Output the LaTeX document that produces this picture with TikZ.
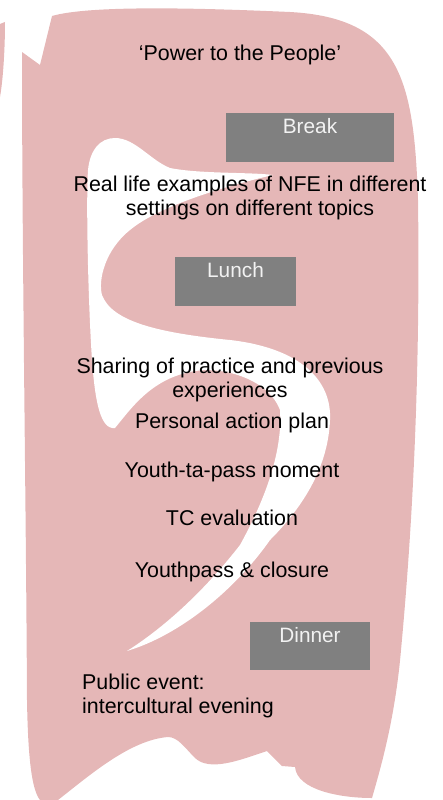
\documentclass[tikz,border=0pt]{standalone}
\usepackage{fontspec}
\setmainfont{Liberation Sans}
\definecolor{pinkfill}{HTML}{E5B7B7}
\definecolor{boxgray}{HTML}{808080}
\definecolor{boxtxt}{HTML}{F2F2F2}
\begin{document}
\begin{tikzpicture}[x=1pt,y=-1pt,
  graybox/.style={fill=boxgray, draw=none, inner sep=0pt, anchor=north west},
  boxlabel/.style={text=boxtxt, anchor=base, inner sep=0pt, font=\fontsize{20.8}{23.5}\selectfont},
  item/.style={text=black, anchor=base, align=center, inner sep=0pt, font=\fontsize{21.4}{23.5}\selectfont}]
\useasboundingbox (0,0) rectangle (443,800);
% pink sliver on the left edge
\fill[pinkfill] (0,24) -- (5,22) .. controls (5,50) and (3,80) .. (0,97) -- cycle;
% main pink shape
\fill[pinkfill] (52,16) .. controls (90,5) and (200,8) .. (290,12)
  .. controls (400,18) and (414,80) .. (418,200)
  .. controls (420,350) and (415,500) .. (401,650)
  .. controls (395,720) and (380,770) .. (372,798)
  .. controls (340,798) and (297,790) .. (295,767)
  -- (282,766) -- (267,751)
  .. controls (240,760) and (210,772) .. (195,758)
  .. controls (185,748) and (178,737) .. (168,737)
  .. controls (130,740) and (90,775) .. (58,800)
  -- (40,800) .. controls (32,790) and (28,760) .. (27,700)
  .. controls (26,500) and (22,250) .. (22,52)
  -- (40,65) -- cycle;
% white S-shaped cut
\fill[white] (115,138) .. controls (135,138) and (150,160) .. (170,168)
  .. controls (200,174) and (250,172) .. (273,175)
  .. controls (230,185) and (160,205) .. (130,230)
  .. controls (105,250) and (98,280) .. (102,295)
  .. controls (112,322) and (160,333) .. (230,340)
  .. controls (300,348) and (332,380) .. (330,420)
  .. controls (328,470) and (300,510) .. (270,540)
  .. controls (235,590) and (180,635) .. (127,651)
  .. controls (165,627) and (205,590) .. (240,545)
  .. controls (262,505) and (283,455) .. (280,410)
  .. controls (268,378) and (220,365) .. (190,372)
  .. controls (150,380) and (130,410) .. (115,428)
  .. controls (100,430) and (95,400) .. (92,360)
  .. controls (88,300) and (86,200) .. (88,170)
  .. controls (90,150) and (100,138) .. (115,138) -- cycle;
% gray boxes
\node[graybox, minimum width=168pt, minimum height=49pt] (breakbox) at (226,113) {};
\node[boxlabel] (breaktxt) at (310,133) {Break};
\node[graybox, minimum width=121pt, minimum height=49pt] (lunchbox) at (175,257) {};
\node[boxlabel] (lunchtxt) at (235.5,277) {Lunch};
\node[graybox, minimum width=120pt, minimum height=48pt] (dinnerbox) at (250,622) {};
\node[boxlabel] (dinnertxt) at (310,642) {Dinner};
% texts
\node[item] (power) at (240,61) {‘Power to the People’};
\node[item] (nfe) at (250,215) {Real life examples of NFE in different\\settings on different topics};
\node[item] (sharing) at (230,397) {Sharing of practice and previous\\experiences};
\node[item] (plan) at (232,428) {Personal action plan};
\node[item] (moment) at (232,477) {Youth-ta-pass moment};
\node[item] (tc) at (232,525) {TC evaluation};
\node[item] (closure) at (232,577) {Youthpass \& closure};
\node[item, align=left, anchor=base west] (public) at (82,713) {Public event:\\intercultural evening};
\end{tikzpicture}
\end{document}
